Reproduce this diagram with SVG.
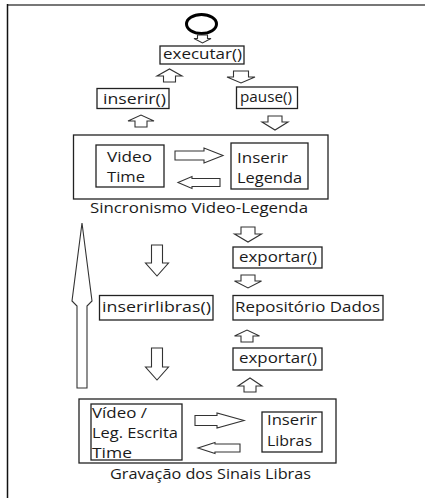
<svg xmlns="http://www.w3.org/2000/svg" width="425" height="499" viewBox="0 0 425 499">
<style>
.bx{fill:#fff;stroke:#222;stroke-width:1.3}
.ar{fill:#fff;stroke:#333;stroke-width:1.1;stroke-linejoin:miter}
text{font-family:"Open Sans","Noto Sans","Liberation Sans",sans-serif;font-size:14px;fill:#1a1a1a}
</style>
<rect width="425" height="499" fill="#fff"/>
<g id="frame">
<line x1="7" y1="5" x2="425" y2="5" stroke="#777" stroke-width="2"/>
<line x1="7.5" y1="4" x2="7.5" y2="498" stroke="#111" stroke-width="1.5"/>
</g>
<g id="start"><ellipse cx="201.5" cy="24" rx="15" ry="9.5" fill="none" stroke="#000" stroke-width="3"/></g>
<g id="executar"><rect class="bx" x="160" y="46" width="84" height="18"/><text x="163" y="59" textLength="79" lengthAdjust="spacingAndGlyphs">executar()</text></g>
<g id="inserir"><rect class="bx" x="97" y="88.5" width="72" height="20"/><text x="103" y="103.5" textLength="63" lengthAdjust="spacingAndGlyphs">inserir()</text></g>
<g id="pause"><rect class="bx" x="236.5" y="87" width="61" height="21.5"/><text x="240" y="101.5" textLength="52" lengthAdjust="spacingAndGlyphs">pause()</text></g>
<g id="sincronismo">
<rect class="bx" x="73.5" y="135" width="254.5" height="64"/>
<g id="videotime"><rect class="bx" x="96" y="145" width="68" height="42"/><text x="107" y="162" textLength="45" lengthAdjust="spacingAndGlyphs">Video</text><text x="107" y="182" textLength="38" lengthAdjust="spacingAndGlyphs">Time</text></g>
<g id="inserirlegenda"><rect class="bx" x="231" y="143" width="77" height="46"/><text x="237" y="163" textLength="51" lengthAdjust="spacingAndGlyphs">Inserir</text><text x="237" y="183" textLength="65" lengthAdjust="spacingAndGlyphs">Legenda</text></g>
<text x="90" y="213" textLength="218" lengthAdjust="spacingAndGlyphs">Sincronismo Video-Legenda</text>
</g>
<g id="exportar1"><rect class="bx" x="233" y="247" width="89" height="21"/><text x="239" y="262" textLength="78" lengthAdjust="spacingAndGlyphs">exportar()</text></g>
<g id="inserirlibras"><rect class="bx" x="99.5" y="295.5" width="113.5" height="24.5"/><text x="102" y="312" textLength="109" lengthAdjust="spacingAndGlyphs">inserirlibras()</text></g>
<g id="repositorio"><rect class="bx" x="233" y="295.5" width="150" height="24.5"/><text x="235" y="312" textLength="145" lengthAdjust="spacingAndGlyphs">Repositório Dados</text></g>
<g id="exportar2"><rect class="bx" x="233" y="348" width="89" height="22"/><text x="239" y="363" textLength="78" lengthAdjust="spacingAndGlyphs">exportar()</text></g>
<g id="gravacao">
<rect class="bx" x="79" y="399" width="257" height="64"/>
<g id="videoleg"><rect class="bx" x="91" y="404" width="91" height="56"/><text x="92" y="418" textLength="55" lengthAdjust="spacingAndGlyphs">Vídeo /</text><text x="92" y="438" textLength="86" lengthAdjust="spacingAndGlyphs">Leg. Escrita</text><text x="92" y="458" textLength="40" lengthAdjust="spacingAndGlyphs">Time</text></g>
<g id="inserirlibrasbox"><rect class="bx" x="262" y="412" width="60" height="40"/><text x="267" y="425" textLength="50" lengthAdjust="spacingAndGlyphs">Inserir</text><text x="267" y="446" textLength="45" lengthAdjust="spacingAndGlyphs">Libras</text></g>
<text x="110" y="479" textLength="201" lengthAdjust="spacingAndGlyphs">Gravação dos Sinais Libras</text>
</g>
<g id="connectors">
<path class="ar" d="M197.5,35 H207.5 V38.5 H211 L202.5,43 L194,38.5 H197.5 Z"/>
<path class="ar" d="M163.5,82 H175.5 V76 H182 L169.5,69 L157,76 H163.5 Z"/>
<path class="ar" d="M233.5,71 H248.5 V77 H255 L241,83 L227,77 H233.5 Z"/>
<path class="ar" d="M135,127 H147 V121 H154 L141,115 L128,121 H135 Z"/>
<path class="ar" d="M268,116 H282 V122 H288 L275,130 L262,122 H268 Z"/>
<path class="ar" d="M175,151 V160 H204 V163 L223,155.5 L204,148 V151 Z"/>
<path class="ar" d="M220,178.5 V186.5 H192 V188.5 L178,182.5 L192,176.5 V178.5 Z"/>
<path class="ar" d="M82,223 L92,301 L87,306 V388 H77 V306 L72,301 Z"/>
<path class="ar" d="M151.5,245 H162.5 V263 H168.5 L157,276 L145.5,263 H151.5 Z"/>
<path class="ar" d="M151.5,348 H162.5 V367 H168.5 L157,380 L145.5,367 H151.5 Z"/>
<path class="ar" d="M241,227 H255 V234 H261.5 L248,242 L234.5,234 H241 Z"/>
<path class="ar" d="M241,275 H255 V281 H261.5 L248,288 L234.5,281 H241 Z"/>
<path class="ar" d="M241,342 H253 V336 H259.5 L247,330 L234.5,336 H241 Z"/>
<path class="ar" d="M244,392 H256 V386 H262 L250,378 L238,386 H244 Z"/>
<path class="ar" d="M195,415.5 V425.5 H217 V428 L244,420.5 L217,413 V415.5 Z"/>
<path class="ar" d="M240,444 V452 H215 V453.5 L198,448 L215,442.5 V444 Z"/>
</g>
</svg>
